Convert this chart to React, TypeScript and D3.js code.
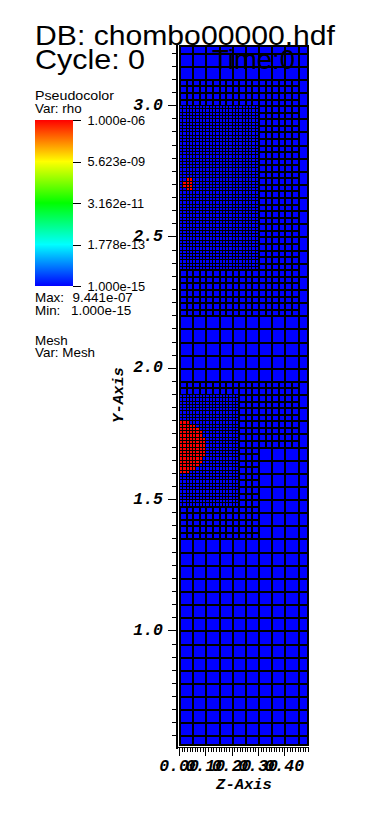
import React from "react";
import * as d3 from "d3";

const W = 380;
const H = 831;

// visible window of the plot, in data coordinates (z horizontal, y vertical)
const zView = [0, 0.4925];
const yView = [0.56, 3.23];

// AMR mesh description (data coordinates)
const level0Box = { x0: 0, x1: 0.5, y0: 0.55, y1: 3.25 };
const level0Size = 0.05;
const level1Boxes = [
  { x0: 0, x1: 0.45, y0: 2.2, y1: 3.1 },
  { x0: 0, x1: 0.45, y0: 1.7, y1: 1.95 },
  { x0: 0, x1: 0.3, y0: 1.35, y1: 1.7 },
];
const level1Size = 0.025;
const level2Boxes = [
  { x0: 0, x1: 0.3, y0: 2.375, y1: 3.0 },
  { x0: 0, x1: 0.225, y0: 1.475, y1: 1.9 },
];
const level2Size = 0.0125;

// high-density (rho ~ 1e-6) blobs
const denseBlobs = [
  { cz: 0.035, cy: 2.7, r: 0.022 },
  { cz: 0.0, cy: 1.7, r: 0.1 },
];

const yMajorTicks = [1.0, 1.5, 2.0, 2.5, 3.0];
const yTickLabels = ["1.0", "1.5", "2.0", "2.5", "3.0"];
const zMajorTicks = [0.0, 0.1, 0.2, 0.3, 0.4];
const zTickLabels = ["0.00", "0.10", "0.20", "0.30", "0.40"];

const legendLabels = ["1.000e-06", "5.623e-09", "3.162e-11", "1.778e-13", "1.000e-15"];
const legendColors = ["#ff0000", "#ffff00", "#00ff00", "#00ffff", "#0000ff"];
const maxValue = "9.441e-07";
const minValue = "1.000e-15";

type Box = { x0: number; x1: number; y0: number; y1: number };
type Cell = { x0: number; x1: number; y0: number; y1: number; red: boolean; level: number };

function cellsOf(box: Box, size: number, level: number, colorable: boolean): Cell[] {
  const nx = Math.round((box.x1 - box.x0) / size);
  const ny = Math.round((box.y1 - box.y0) / size);
  const out: Cell[] = [];
  for (let i = 0; i < nx; i++) {
    for (let j = 0; j < ny; j++) {
      const x0 = box.x0 + i * size;
      const y0 = box.y0 + j * size;
      const cx = x0 + size / 2;
      const cy = y0 + size / 2;
      const red =
        colorable &&
        denseBlobs.some((b) => (cx - b.cz) ** 2 + (cy - b.cy) ** 2 <= b.r * b.r);
      out.push({ x0, x1: x0 + size, y0, y1: y0 + size, red, level });
    }
  }
  return out;
}

export default function App() {
  const xs = d3.scaleLinear().domain(zView).range([179, 308.7]);
  const ys = d3.scaleLinear().domain(yView).range([746, 44.7]);

  const levels: Cell[][] = [
    cellsOf(level0Box, level0Size, 0, false),
    level1Boxes.flatMap((b) => cellsOf(b, level1Size, 1, false)),
    level2Boxes.flatMap((b) => cellsOf(b, level2Size, 2, true)),
  ];

  const lineW = [2, 2, 1];

  const plotLeft = Math.round(xs(zView[0]));
  const plotRight = Math.round(xs(zView[1]));
  const plotTop = Math.round(ys(yView[1]));
  const plotBottom = Math.round(ys(yView[0]));

  const yMinor = d3.range(12, 65).map((k) => k * 0.05).filter((v) => v >= yView[0] && v <= yView[1]);
  const zMinor = d3.range(0, 50).map((k) => k * 0.01).filter((v) => v <= zView[1]);

  const axisX = 176.5;
  const axisY = 747.5;

  // legend
  const barX = 35;
  const barW = 38;
  const barTop = 120;
  const barBottom = 286;
  const legendScale = d3.scaleLinear().domain([0, legendLabels.length - 1]).range([barTop, barBottom]);

  const sans = "'Liberation Sans', Arial, sans-serif";
  const mono = "'Liberation Mono', 'Courier New', monospace";

  const px = (v: number) => Math.round(xs(v));
  const py = (v: number) => Math.round(ys(v));

  return (
    <svg
      width={W}
      height={H}
      style={{ position: "absolute", left: 0, top: 0, background: "#fff" }}
    >
      <defs>
        <clipPath id="plotClip">
          <rect x={plotLeft} y={plotTop} width={plotRight - plotLeft} height={plotBottom - plotTop} />
        </clipPath>
        <linearGradient id="pcGrad" x1="0" y1="0" x2="0" y2="1">
          {legendColors.map((c, i) => (
            <stop key={i} offset={`${(i / (legendColors.length - 1)) * 100}%`} stopColor={c} />
          ))}
        </linearGradient>
      </defs>

      <g clipPath="url(#plotClip)" shapeRendering="crispEdges">
        {levels.map((cells, li) => (
          <g key={"lev" + li}>
            {cells.map((c, i) => {
              const x = px(c.x0);
              const y = py(c.y1);
              const w = px(c.x1) - x;
              const h = py(c.y0) - y;
              const lw = lineW[li];
              return (
                <g key={i}>
                  <rect x={x} y={y} width={w} height={h} fill={c.red ? "#ff0000" : "#0000ff"} />
                  <rect x={x} y={y} width={lw} height={h} fill="#000" />
                  <rect x={x} y={y} width={w} height={lw} fill="#000" />
                </g>
              );
            })}
          </g>
        ))}
        <rect x={plotRight - 2} y={plotTop} width={2} height={plotBottom - plotTop} fill="#000" />
        <rect x={plotLeft} y={plotBottom - 2} width={plotRight - plotLeft} height={2} fill="#000" />
        <rect x={plotLeft} y={plotTop} width={plotRight - plotLeft} height={2} fill="#000" />
      </g>

      {/* axes */}
      <g stroke="#000" shapeRendering="crispEdges">
        <line x1={axisX} x2={axisX} y1={plotTop} y2={axisY + 1} strokeWidth={2} />
        <line x1={axisX - 1} x2={plotRight} y1={axisY} y2={axisY} strokeWidth={1.5} />
        {yMinor.map((v, i) => (
          <line key={"ym" + i} x1={172} x2={axisX} y1={py(v) + 0.5} y2={py(v) + 0.5} strokeWidth={1} />
        ))}
        {yMajorTicks.map((v, i) => (
          <line key={"yM" + i} x1={167.5} x2={axisX} y1={py(v) + 0.5} y2={py(v) + 0.5} strokeWidth={1.5} />
        ))}
        {zMinor.map((v, i) => (
          <line key={"zm" + i} x1={px(v) + 0.5} x2={px(v) + 0.5} y1={axisY} y2={751.5} strokeWidth={1} />
        ))}
        {zMajorTicks.map((v, i) => (
          <line key={"zM" + i} x1={px(v) + 0.5} x2={px(v) + 0.5} y1={axisY} y2={755.5} strokeWidth={1.3} />
        ))}
      </g>

      <g fontFamily={mono} fontWeight="bold" fontStyle="italic" fontSize={16.5} fill="#000">
        {yMajorTicks.map((v, i) => (
          <text key={"yl" + i} x={163} y={ys(v)} textAnchor="end" dominantBaseline="central">
            {yTickLabels[i]}
          </text>
        ))}
        {zMajorTicks.map((v, i) => (
          <text key={"zl" + i} x={xs(v)} y={770.5} textAnchor="middle">
            {zTickLabels[i]}
          </text>
        ))}
        <text x={244} y={788.5} textAnchor="middle" fontSize={15.5}>
          Z-Axis
        </text>
        <text
          transform={`translate(118.5,395) rotate(-90)`}
          textAnchor="middle"
          dominantBaseline="central"
          fontSize={15.5}
        >
          Y-Axis
        </text>
      </g>

      {/* header */}
      <g fontFamily={sans} fill="#000" fontSize={28}>
        <text x={35} y={44.5} textLength={300} lengthAdjust="spacingAndGlyphs">
          DB: chombo00000.hdf
        </text>
        <text x={35} y={69} textLength={110} lengthAdjust="spacingAndGlyphs">
          Cycle: 0
        </text>
        <text x={212} y={69} textLength={83} lengthAdjust="spacingAndGlyphs">
          Time:0
        </text>
      </g>

      {/* legend */}
      <g fontFamily={sans} fill="#000" fontSize={13.4}>
        <text x={35} y={100} textLength={79} lengthAdjust="spacingAndGlyphs">Pseudocolor</text>
        <text x={35} y={112.5}>Var: rho</text>
        <rect x={barX} y={barTop} width={barW} height={barBottom - barTop} fill="url(#pcGrad)" />
        {legendLabels.map((l, i) => (
          <g key={"lg" + i}>
            <line
              x1={barX + barW}
              x2={81}
              y1={Math.round(legendScale(i)) + 0.5}
              y2={Math.round(legendScale(i)) + 0.5}
              stroke="#000"
              strokeWidth={1.2}
              shapeRendering="crispEdges"
            />
            <text x={87.5} y={legendScale(i)} dominantBaseline="central" fontSize={12.8}>
              {l}
            </text>
          </g>
        ))}
        <text x={35} y={302}>Max:</text>
        <text x={72.5} y={302}>{maxValue}</text>
        <text x={35} y={315}>Min:</text>
        <text x={71} y={315}>{minValue}</text>
        <text x={35} y={345}>Mesh</text>
        <text x={35} y={357}>Var: Mesh</text>
      </g>
    </svg>
  );
}
